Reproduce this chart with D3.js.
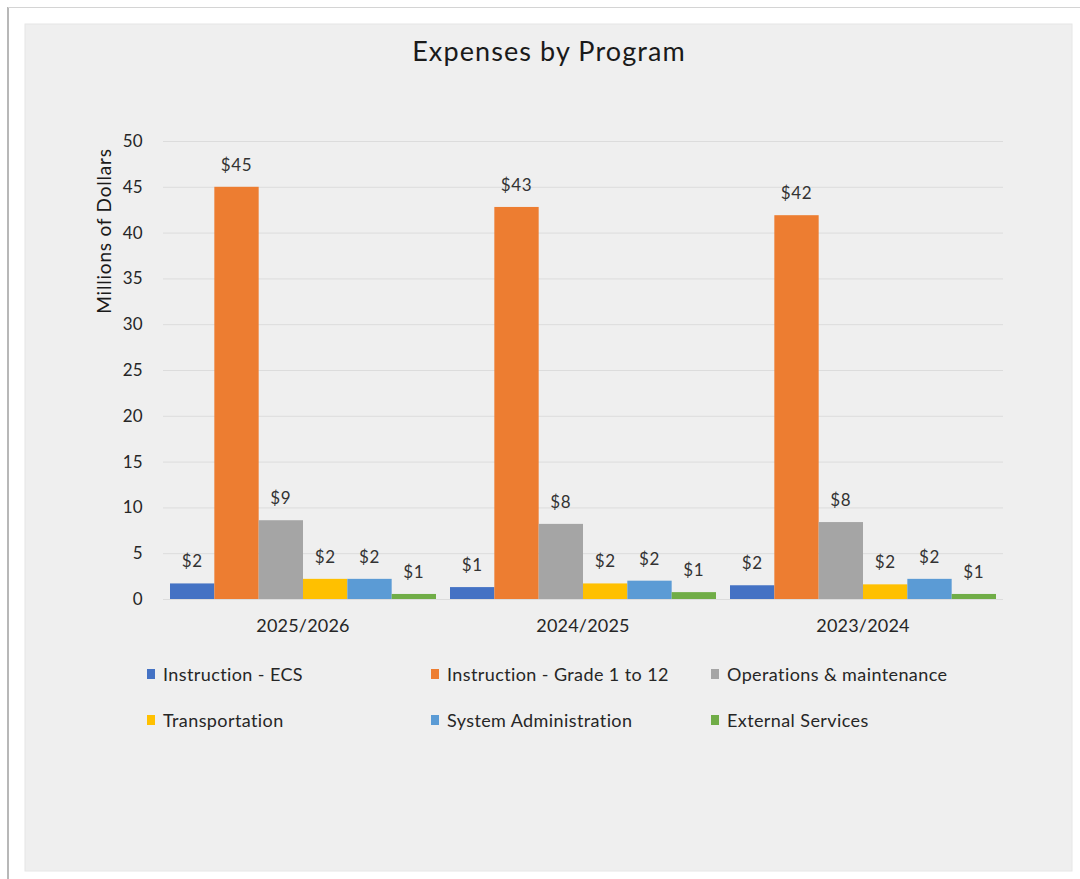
<!DOCTYPE html>
<html>
<head>
<meta charset="utf-8">
<script src="https://cdn.jsdelivr.net/npm/d3@7"></script>
<style>
  body { margin: 0; background: #ffffff; }
  svg { display: block; }
  text { font-family: Lato, "Open Sans", sans-serif; }
</style>
</head>
<body>
<svg id="chart" width="1080" height="879"></svg>
<script>
// ---- data ----
const categories = ["2025/2026", "2024/2025", "2023/2024"];
const seriesNames = ["Instruction - ECS", "Instruction - Grade 1 to 12", "Operations & maintenance",
                     "Transportation", "System Administration", "External Services"];
const instructionECS   = [1.7, 1.3, 1.5];
const instructionGrade = [45.0, 42.8, 41.9];
const operations       = [8.6, 8.2, 8.4];
const transportation   = [2.2, 1.7, 1.6];
const systemAdmin      = [2.2, 2.0, 2.2];
const externalServices = [0.55, 0.75, 0.55];
const yTicks = [0, 5, 10, 15, 20, 25, 30, 35, 40, 45, 50];
const colors = ["#4472C4", "#ED7D31", "#A5A5A5", "#FFC000", "#5B9BD5", "#70AD47"];

const seriesValues = [instructionECS, instructionGrade, operations, transportation, systemAdmin, externalServices];

const svg = d3.select("#chart");
const W = 1080, H = 879;

// frame
svg.append("rect").attr("x", 0).attr("y", 0).attr("width", W).attr("height", H).attr("fill", "#ffffff");
svg.append("line").attr("x1", 8).attr("x2", 8).attr("y1", 7).attr("y2", H).attr("stroke", "#b8b8b8").attr("stroke-width", 2);
svg.append("line").attr("x1", 8).attr("x2", W).attr("y1", 7.5).attr("y2", 7.5).attr("stroke", "#d4d4d4").attr("stroke-width", 1);
svg.append("rect").attr("x", 25).attr("y", 24).attr("width", 1047).attr("height", 847)
   .attr("fill", "#efefef").attr("stroke", "#e6e6e6");

// title
svg.append("text").attr("x", 549).attr("y", 61).attr("text-anchor", "middle")
   .attr("font-size", 27).attr("letter-spacing", 1.1).attr("fill", "#1a1a1a").text("Expenses by Program");

// scales
const plotLeft = 163, plotRight = 1003, plotTop = 141, plotBottom = 599;
const x0 = d3.scaleBand().domain(categories).range([plotLeft, plotRight]).paddingInner(0.05).paddingOuter(0.025);
const x1 = d3.scaleBand().domain(d3.range(seriesNames.length)).range([0, x0.bandwidth()]).padding(0);
const y = d3.scaleLinear().domain([0, 50]).range([plotBottom, plotTop]);

// gridlines
svg.append("g").selectAll("line").data(yTicks).join("line")
  .attr("x1", plotLeft).attr("x2", plotRight)
  .attr("y1", d => y(d) + 0.5).attr("y2", d => y(d) + 0.5)
  .attr("stroke", "#dcdcdc").attr("stroke-width", 1);

// y axis tick labels
const yAxis = d3.axisLeft(y).tickValues(yTicks).tickSize(0).tickPadding(0);
const gy = svg.append("g").attr("transform", `translate(${plotLeft - 20},0)`).call(yAxis);
gy.select(".domain").remove();
gy.selectAll("text").attr("font-size", 17).attr("letter-spacing", 0.3).attr("fill", "#262626").attr("font-family", "Lato, sans-serif");

// y axis title
svg.append("text").attr("transform", `translate(111,231) rotate(-90)`)
   .attr("text-anchor", "middle").attr("font-size", 19).attr("letter-spacing", 0.8)
   .attr("fill", "#1a1a1a").text("Millions of Dollars");

// x axis labels
const xAxis = d3.axisBottom(x0).tickSize(0).tickPadding(0);
const gx = svg.append("g").attr("transform", `translate(0,${plotBottom + 20})`).call(xAxis);
gx.select(".domain").remove();
gx.selectAll("text").attr("font-size", 18).attr("letter-spacing", 0.2).attr("fill", "#262626").attr("font-family", "Lato, sans-serif");

// bars
const groups = svg.append("g").selectAll("g").data(categories).join("g")
  .attr("transform", d => `translate(${x0(d)},0)`);

groups.each(function(cat, ci) {
  const g = d3.select(this);
  const vals = seriesValues.map((s, si) => ({ si, v: s[ci] }));
  g.selectAll("rect").data(vals).join("rect")
    .attr("x", d => x1(d.si)).attr("width", x1.bandwidth())
    .attr("y", d => y(d.v)).attr("height", d => y(0) - y(d.v))
    .attr("fill", d => colors[d.si]);
  g.selectAll("text").data(vals).join("text")
    .attr("x", d => x1(d.si) + x1.bandwidth() / 2)
    .attr("y", d => y(d.v) - 16)
    .attr("text-anchor", "middle").attr("font-size", 17).attr("letter-spacing", 0.6).attr("fill", "#333333")
    .text(d => "$" + Math.round(d.v));
});

// legend
const legendX = [147, 431, 711];
const legendY = [674, 720];
const legend = svg.append("g").selectAll("g").data(seriesNames).join("g")
  .attr("transform", (d, i) => `translate(${legendX[i % 3]},${legendY[Math.floor(i / 3)]})`);
legend.append("rect").attr("x", 0).attr("y", -5).attr("width", 8).attr("height", 10)
  .attr("fill", (d, i) => colors[i]);
legend.append("text").attr("x", 16).attr("y", 7).attr("font-size", 18).attr("letter-spacing", 0.4)
  .attr("fill", "#262626").text(d => d);
</script>
</body>
</html>
